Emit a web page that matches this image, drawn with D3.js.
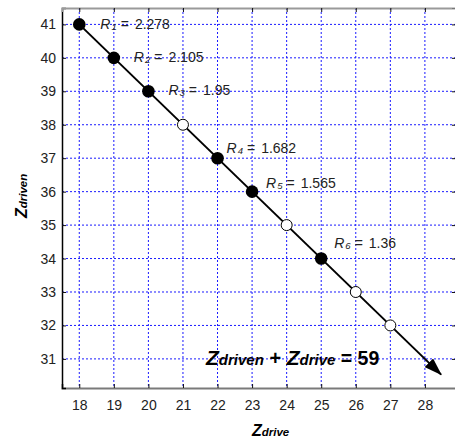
<!DOCTYPE html>
<html>
<head>
<meta charset="utf-8">
<script src="https://cdn.jsdelivr.net/npm/d3@7"></script>
<style>
  html, body { margin: 0; padding: 0; background: #fff; }
  svg { display: block; font-family: "Liberation Sans", Arial, sans-serif; }
</style>
</head>
<body>
<svg id="chart" width="455" height="438"></svg>
<script>
// Gear tooth-count pairs on the line Zdriven + Zdrive = 59
const zDriveSel  = [18, 19, 20, 22, 23, 25];        // chosen pairs (filled)
const zDrivenSel = [41, 40, 39, 37, 36, 34];
const ratios     = ["2.278", "2.105", "1.95", "1.682", "1.565", "1.36"];
const zDriveAlt  = [21, 24, 26, 27];                 // other integer pairs (open)
const zDrivenAlt = [38, 35, 33, 32];
const xTicks = [18, 19, 20, 21, 22, 23, 24, 25, 26, 27, 28];
const yTicks = [31, 32, 33, 34, 35, 36, 37, 38, 39, 40, 41];
const lineStart = [18, 41];
const lineEnd   = [28.47, 30.53];
const toothSum  = 59;

// label offsets (px) from each chosen point
const labelDx = [21, 20, 20, 9, 14, 13];
const labelDy = [4.5, 4, 3.5, -5.5, -4, -10.5];

const svg = d3.select("#chart");
const L = 62, R = 456, T = 8, B = 388;

const x = d3.scaleLinear().domain([17.5, 28.9]).range([L, R]);
const y = d3.scaleLinear().domain([30.13, 41.49]).range([B, T]);

// dotted blue grid
const grid = svg.append("g");
grid.selectAll("line.gx").data(xTicks).join("line")
  .attr("x1", d => x(d)).attr("x2", d => x(d))
  .attr("y1", T).attr("y2", B)
  .attr("stroke", "#1a1aff").attr("stroke-width", 1).attr("stroke-dasharray", "2,2");
grid.selectAll("line.gy").data(yTicks).join("line")
  .attr("y1", d => y(d)).attr("y2", d => y(d))
  .attr("x1", L).attr("x2", R)
  .attr("stroke", "#1a1aff").attr("stroke-width", 1).attr("stroke-dasharray", "2,2");

// axes with inward ticks
const tickFont = "14px";
const axB = svg.append("g").attr("transform", `translate(0,${B})`)
  .call(d3.axisBottom(x).tickValues(xTicks).tickSize(-4).tickPadding(12).tickFormat(d3.format("d")));
const axL = svg.append("g").attr("transform", `translate(${L},0)`)
  .call(d3.axisLeft(y).tickValues(yTicks).tickSize(-4).tickPadding(6).tickFormat(d3.format("d")));
const axT = svg.append("g").attr("transform", `translate(0,${T})`)
  .call(d3.axisTop(x).tickValues(xTicks).tickSize(-4).tickFormat(""));
const axR = svg.append("g").attr("transform", `translate(${R},0)`)
  .call(d3.axisRight(y).tickValues(yTicks).tickSize(-4).tickFormat(""));

[axB, axL, axT, axR].forEach(a => {
  a.selectAll("text").attr("font-size", tickFont).attr("fill", "#222")
    .attr("font-family", "Liberation Sans, Arial, sans-serif");
  a.selectAll(".tick line").attr("stroke", "#111").attr("stroke-width", 1);
});
axB.select(".domain").attr("stroke", "#7a7a7a").attr("stroke-width", 2);
axT.select(".domain").attr("stroke", "#9a9a9a").attr("stroke-width", 2);
axL.select(".domain").attr("stroke", "#000").attr("stroke-width", 1.5);
axR.select(".domain").attr("stroke", "#777").attr("stroke-width", 1);

// arrow line
svg.append("defs").append("marker")
  .attr("id", "head").attr("viewBox", "0 0 18 12")
  .attr("refX", 17).attr("refY", 6)
  .attr("markerWidth", 18).attr("markerHeight", 12)
  .attr("markerUnits", "userSpaceOnUse").attr("orient", "auto")
  .append("path").attr("d", "M0,0 L18,6 L0,12 Z").attr("fill", "#000");

svg.append("line")
  .attr("x1", x(lineStart[0])).attr("y1", y(lineStart[1]))
  .attr("x2", x(lineEnd[0])).attr("y2", y(lineEnd[1]))
  .attr("stroke", "#000").attr("stroke-width", 2)
  .attr("marker-end", "url(#head)");

// open points
svg.selectAll("circle.alt").data(zDriveAlt).join("circle")
  .attr("cx", d => x(d)).attr("cy", (d, i) => y(zDrivenAlt[i]))
  .attr("r", 5.5).attr("fill", "#fff").attr("stroke", "#000").attr("stroke-width", 1);

// filled points
svg.selectAll("circle.sel").data(zDriveSel).join("circle")
  .attr("cx", d => x(d)).attr("cy", (d, i) => y(zDrivenSel[i]))
  .attr("r", 6.3).attr("fill", "#000");

// ratio labels
const lab = svg.selectAll("text.ratio").data(ratios).join("text")
  .attr("x", (d, i) => x(zDriveSel[i]) + labelDx[i])
  .attr("y", (d, i) => y(zDrivenSel[i]) + labelDy[i])
  .attr("font-size", "14px").attr("fill", "#222");
lab.append("tspan").attr("font-style", "italic").text("R");
lab.append("tspan").attr("font-style", "italic").attr("font-size", "9.5px").attr("dy", 1)
  .attr("dx", 1).text((d, i) => i + 1);
lab.append("tspan").attr("dy", -1).attr("dx", 4).text("=");
lab.append("tspan").attr("dx", 6).text(d => d);

// sum equation
const eq = svg.append("text").attr("x", 206).attr("y", 365)
  .attr("font-weight", "bold").attr("fill", "#000");
eq.append("tspan").attr("font-style", "italic").attr("font-size", "21px").text("Z");
eq.append("tspan").attr("font-style", "italic").attr("font-size", "15px").text("driven");
eq.append("tspan").attr("font-size", "20px").text(" + ");
eq.append("tspan").attr("font-style", "italic").attr("font-size", "21px").text("Z");
eq.append("tspan").attr("font-style", "italic").attr("font-size", "15px").text("drive");
eq.append("tspan").attr("font-size", "19.5px").text(" = " + toothSum);

// x axis title
const xt = svg.append("text").attr("x", 252).attr("y", 436)
  .attr("font-weight", "bold").attr("font-style", "italic").attr("fill", "#000");
xt.append("tspan").attr("font-size", "16px").text("Z");
xt.append("tspan").attr("font-size", "11.5px").text("drive");

// y axis title
const yt = svg.append("text")
  .attr("transform", "translate(27,218) rotate(-90)")
  .attr("font-weight", "bold").attr("font-style", "italic").attr("fill", "#000");
yt.append("tspan").attr("font-size", "16px").text("Z");
yt.append("tspan").attr("font-size", "11.5px").text("driven");
</script>
</body>
</html>
